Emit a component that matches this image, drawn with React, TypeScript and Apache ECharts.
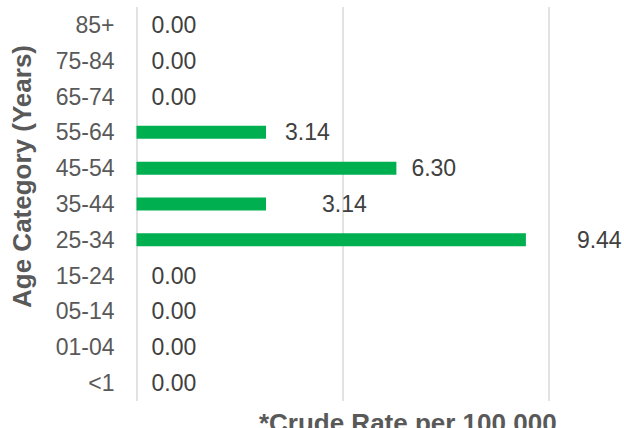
import React, { useEffect, useRef } from "react";
import * as echarts from "echarts";

const categories = ["<1", "01-04", "05-14", "15-24", "25-34", "35-44", "45-54", "55-64", "65-74", "75-84", "85+"];
const rates = [0, 0, 0, 0, 9.44, 3.14, 6.3, 3.14, 0, 0, 0];
// extra horizontal nudges of individual value labels (as placed in the reference)
const labelNudges = [0, 0, 0, 0, 36, 41, 0, 4, 0, 0, 0];

const FONT = "'Liberation Sans', Arial, sans-serif";

export default function App() {
  const ref = useRef<HTMLDivElement>(null);
  useEffect(() => {
    if (!ref.current) return;
    const chart = echarts.init(ref.current, null, { renderer: "svg" });
    chart.setOption({
      animation: false,
      textStyle: { fontFamily: FONT },
      grid: { left: 136.5, right: 75, top: 7, bottom: 27, containLabel: false, outerBoundsMode: "none" },
      xAxis: {
        type: "value",
        min: 0,
        max: 10,
        interval: 5,
        axisLabel: { show: false },
        axisLine: { show: false },
        axisTick: { show: false },
        splitLine: { show: true, lineStyle: { color: "#d9d9d9", width: 1.5 } },
        name: "*Crude Rate per 100,000",
        nameLocation: "middle",
        nameGap: 9,
        nameTextStyle: {
          fontFamily: FONT,
          fontSize: 26,
          fontWeight: "bold",
          color: "#595959",
          verticalAlign: "top",
          padding: [0, 0, 0, 130],
        },
      },
      yAxis: {
        type: "category",
        data: categories,
        axisLine: { show: false },
        axisTick: { show: false },
        axisLabel: { fontFamily: FONT, fontSize: 23, color: "#595959", margin: 22 },
        name: "Age Category (Years)",
        nameLocation: "middle",
        nameRotate: 90,
        nameGap: 102,
        nameTextStyle: {
          fontFamily: FONT,
          fontSize: 26,
          fontWeight: "bold",
          color: "#595959",
          padding: [0, 0, 0, 55],
        },
      },
      series: [
        {
          type: "bar",
          barWidth: 13,
          itemStyle: { color: "#00b050" },
          data: rates.map((v, i) => ({
            value: v,
            label: { offset: [labelNudges[i], 0] },
          })),
          label: {
            show: true,
            position: "right",
            distance: 15,
            fontFamily: FONT,
            fontSize: 23,
            color: "#404040",
            formatter: (p: any) => Number(p.value).toFixed(2),
          },
        },
      ],
    });
    return () => chart.dispose();
  }, []);
  return <div ref={ref} style={{ width: 624, height: 428, position: "absolute", left: 0, top: 0 }} />;
}
